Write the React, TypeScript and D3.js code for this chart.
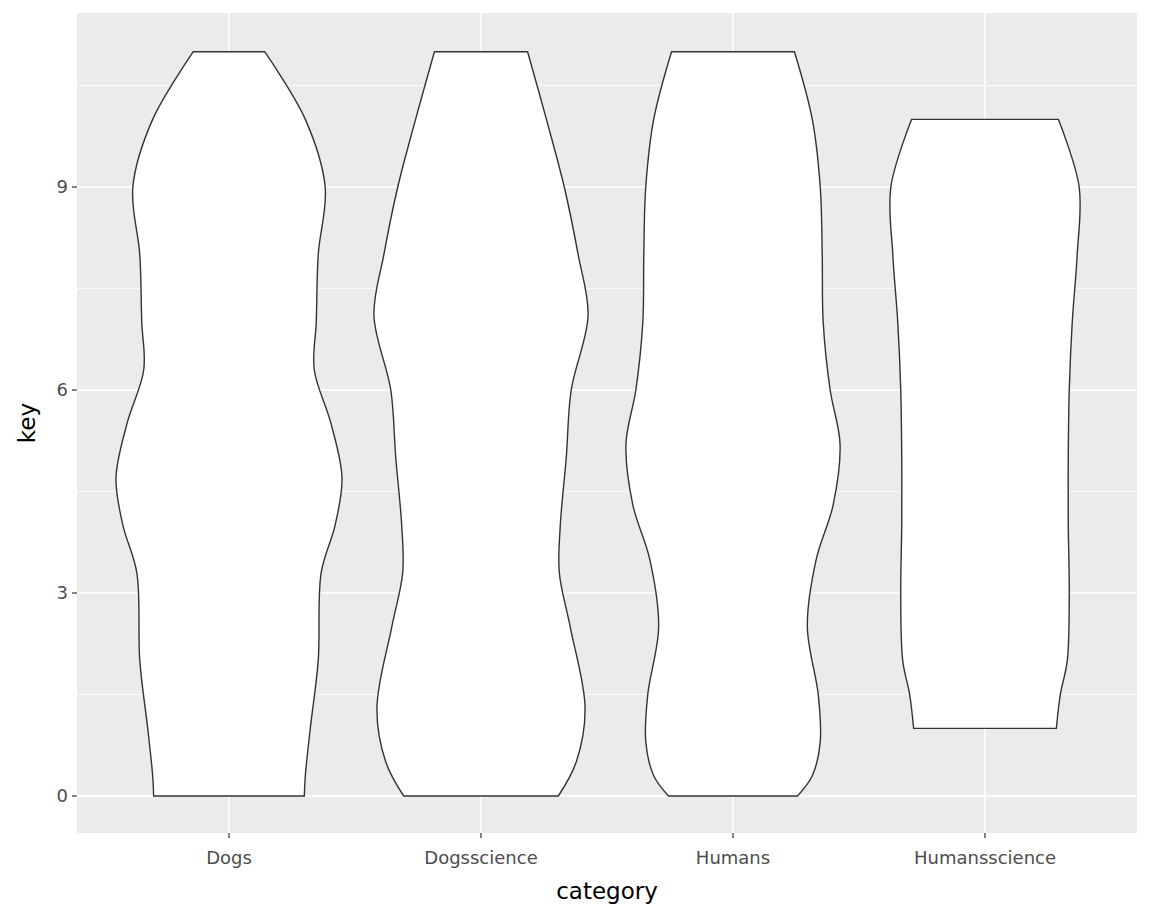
import React from 'react';
import * as d3 from 'd3';

const categories = ['Dogs', 'Dogsscience', 'Humans', 'Humansscience'];
const yTicks = [0, 3, 6, 9];
const yMinor = [1.5, 4.5, 7.5, 10.5];

// [key, density]
const dogs: [number, number][] = [[0, 76], [0.3, 77], [1, 82], [2, 90], [3.3, 93], [4, 107], [4.7, 114], [5.5, 103], [6.3, 86], [7, 88], [8, 90], [9, 97], [10, 77], [11, 36]];
const dogsScience: [number, number][] = [[0, 78], [0.5, 96], [1.3, 105], [2.5, 90], [3.3, 79], [4, 80], [5, 86], [6, 91], [7.1, 108], [8, 98], [9, 84], [10, 66], [11, 47]];
const humans: [number, number][] = [[0, 65], [0.3, 80], [0.8, 88], [1.5, 86], [2.5, 75], [3.5, 84], [4.3, 101], [5.2, 108], [6, 98], [7, 91], [8, 90], [9, 88], [10, 80], [11, 62]];
const humansScience: [number, number][] = [[1, 72], [1.5, 76], [2, 83], [3, 85], [4, 84], [5, 84], [6, 85], [7, 88], [8, 93], [9, 95], [10, 74]];
const series = [dogs, dogsScience, humans, humansScience];

export default function App() {
  const W = 1152, H = 921;
  const m = { left: 77, right: 15, top: 13, bottom: 88 };
  const x = d3.scalePoint<string>().domain(categories).range([229, 985]);
  const y = d3.scaleLinear().domain([0, 11]).range([796, 51.7]);
  const w = d3.scaleLinear().domain([0, 114]).range([0, 113]);
  const pl = m.left, pr = W - m.right, pt = m.top, pb = H - m.bottom;

  return (
    <svg width={W} height={H} style={{ position: 'absolute', left: 0, top: 0 }} fontFamily="DejaVu Sans, sans-serif">
      <rect width={W} height={H} fill="#fff" />
      <rect x={pl} y={pt} width={pr - pl} height={pb - pt} fill="#EBEBEB" />
      {yMinor.map(v => <line key={'m' + v} x1={pl} x2={pr} y1={y(v)} y2={y(v)} stroke="#fff" strokeWidth={0.8} />)}
      {yTicks.map(v => <line key={'g' + v} x1={pl} x2={pr} y1={y(v)} y2={y(v)} stroke="#fff" strokeWidth={1.6} />)}
      {categories.map(c => <line key={'v' + c} x1={x(c)} x2={x(c)} y1={pt} y2={pb} stroke="#fff" strokeWidth={1.6} />)}
      {series.map((s, i) => {
        const cx = x(categories[i])!;
        const area = d3.area<[number, number]>()
          .y(d => y(d[0]))
          .x0(d => cx - w(d[1]))
          .x1(d => cx + w(d[1]))
          .curve(d3.curveCatmullRom);
        return <path key={i} d={area(s)!} fill="#fff" stroke="#333" strokeWidth={1.4} />;
      })}
      {yTicks.map(v => (
        <g key={'t' + v}>
          <line x1={pl - 5} x2={pl} y1={y(v)} y2={y(v)} stroke="#333" strokeWidth={1.2} />
          <text x={pl - 9} y={y(v)} dy="0.35em" textAnchor="end" fontSize={18} fill="#4d4d4d">{v}</text>
        </g>
      ))}
      {categories.map(c => (
        <g key={'x' + c}>
          <line x1={x(c)} x2={x(c)} y1={pb} y2={pb + 5} stroke="#333" strokeWidth={1.2} />
          <text x={x(c)} y={pb + 31} textAnchor="middle" fontSize={18} fill="#4d4d4d">{c}</text>
        </g>
      ))}
      <text x={(pl + pr) / 2} y={H - 22} textAnchor="middle" fontSize={23}>category</text>
      <text transform={`translate(35,${(pt + pb) / 2}) rotate(-90)`} textAnchor="middle" fontSize={23}>key</text>
    </svg>
  );
}
